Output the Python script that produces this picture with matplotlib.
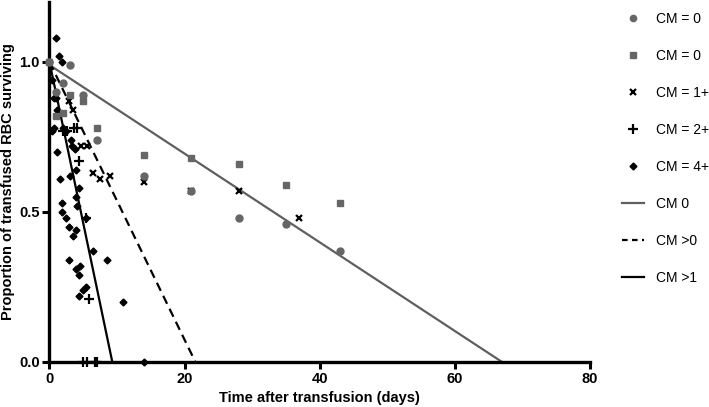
import matplotlib as mpl
import matplotlib.pyplot as plt
import matplotlib.lines as mlines

mpl.rcParams['font.family'] = ['Liberation Sans', 'DejaVu Sans']

# data
cm0a_x = [0, 1, 2, 3, 5, 7, 14, 21, 28, 35, 43]
cm0a_y = [1.0, 0.90, 0.93, 0.99, 0.89, 0.74, 0.62, 0.57, 0.48, 0.46, 0.37]

cm0b_x = [0, 1, 2, 3, 5, 7, 14, 21, 28, 35, 43]
cm0b_y = [1.0, 0.82, 0.83, 0.89, 0.87, 0.78, 0.69, 0.68, 0.66, 0.59, 0.53]

cm1_x = [2.9, 3.5, 4.7, 5.5, 6.4, 7.5, 9.0, 14, 21, 28, 37]
cm1_y = [0.87, 0.84, 0.72, 0.72, 0.63, 0.61, 0.62, 0.60, 0.57, 0.57, 0.48]

cm2_x = [2.0, 2.6, 3.6, 4.1, 4.4, 5.4, 5.9, 5.0, 5.6, 6.8, 7.1]
cm2_y = [0.77, 0.77, 0.78, 0.78, 0.67, 0.48, 0.21, 0.0, 0.0, 0.0, 0.0]

cm4_x = [0, 1.0, 1.4, 1.9, 0.3, 0.6, 1.0, 1.1, 0.3, 0.7, 2.0, 2.4, 1.1, 3.2, 3.4,
         3.8, 1.5, 3.0, 3.9, 4.4, 1.9, 3.9, 4.0, 1.9, 2.4, 5.4, 2.9, 3.9, 3.5,
         6.4, 8.5, 2.9, 4.5, 3.9, 4.4, 5.4, 4.9, 4.4, 10.9, 14]
cm4_y = [1.0, 1.08, 1.02, 1.0, 0.94, 0.88, 0.88, 0.84, 0.77, 0.78, 0.78, 0.77, 0.70, 0.74, 0.72,
         0.71, 0.61, 0.62, 0.64, 0.58, 0.53, 0.55, 0.52, 0.50, 0.48, 0.48, 0.45, 0.44, 0.42,
         0.37, 0.34, 0.34, 0.32, 0.31, 0.29, 0.25, 0.24, 0.22, 0.20, 0.0]

# fitted lines (start, end)
fit0_x, fit0_y = [0, 67.0], [0.99, 0.0]
fitp_x, fitp_y = [0, 21.6], [1.0, 0.0]
fit1_x, fit1_y = [0, 9.3], [1.0, 0.0]

gray = '#666666'
line_gray = '#5f5f5f'

fig = plt.figure(figsize=(7.09, 4.07), dpi=100)
ax = fig.add_axes([0.0698, 0.1106, 0.7622, 0.8845])

ax.plot(fit0_x, fit0_y, color=line_gray, lw=1.6, zorder=2)
ax.plot(fitp_x, fitp_y, color='black', lw=1.6, ls=(0, (4, 2.5)), zorder=2)
ax.plot(fit1_x, fit1_y, color='black', lw=1.6, zorder=2)

kw = dict(ls='none', clip_on=False, zorder=3)
ax.plot(cm4_x, cm4_y, marker='D', ms=3.5, color='black', **kw)
ax.plot(cm2_x, cm2_y, marker='+', ms=6.5, mew=1.6, color='black', **kw)
ax.plot(cm1_x, cm1_y, marker='x', ms=5, mew=1.6, color='black', **kw)
ax.plot(cm0b_x, cm0b_y, marker='s', ms=4.5, color=gray, **kw)
ax.plot(cm0a_x, cm0a_y, marker='o', ms=5, color=gray, **kw)

ax.set_xlim(0, 80)
ax.set_ylim(0, 1.2)
ax.set_xticks([0, 20, 40, 60, 80])
ax.set_yticks([0.0, 0.5, 1.0])
ax.set_yticklabels(['0.0', '0.5', '1.0'])
for s in ['top', 'right']:
    ax.spines[s].set_visible(False)
for s in ['left', 'bottom']:
    ax.spines[s].set_linewidth(2.4)
ax.tick_params(width=2.2, length=5, labelsize=10.5, pad=2)
for lab in ax.get_xticklabels() + ax.get_yticklabels():
    lab.set_fontweight('bold')

ax.set_xlabel('Time after transfusion (days)', fontsize=10.5, fontweight='bold', labelpad=4)
ax.set_ylabel('Proportion of transfused RBC surviving', fontsize=10.5, fontweight='bold', labelpad=3)

handles = [
    mlines.Line2D([], [], ls='none', marker='o', ms=4.5, color=gray, label='CM = 0'),
    mlines.Line2D([], [], ls='none', marker='s', ms=4.5, color=gray, label='CM = 0'),
    mlines.Line2D([], [], ls='none', marker='x', ms=5, mew=1.6, color='black', label='CM = 1+'),
    mlines.Line2D([], [], ls='none', marker='+', ms=6.5, mew=1.6, color='black', label='CM = 2+'),
    mlines.Line2D([], [], ls='none', marker='D', ms=3.5, color='black', label='CM = 4+'),
    mlines.Line2D([], [], color=line_gray, lw=1.6, label='CM 0'),
    mlines.Line2D([], [], color='black', lw=1.6, ls=(0, (2.5, 2)), label='CM >0'),
    mlines.Line2D([], [], color='black', lw=1.6, label='CM >1'),
]
fig.legend(handles=handles, loc='upper left', bbox_to_anchor=(0.869, 0.985),
           frameon=False, fontsize=10, handlelength=1.6, handletextpad=0.9,
           labelspacing=1.66, borderaxespad=0)

fig.savefig('out.png', dpi=100)
